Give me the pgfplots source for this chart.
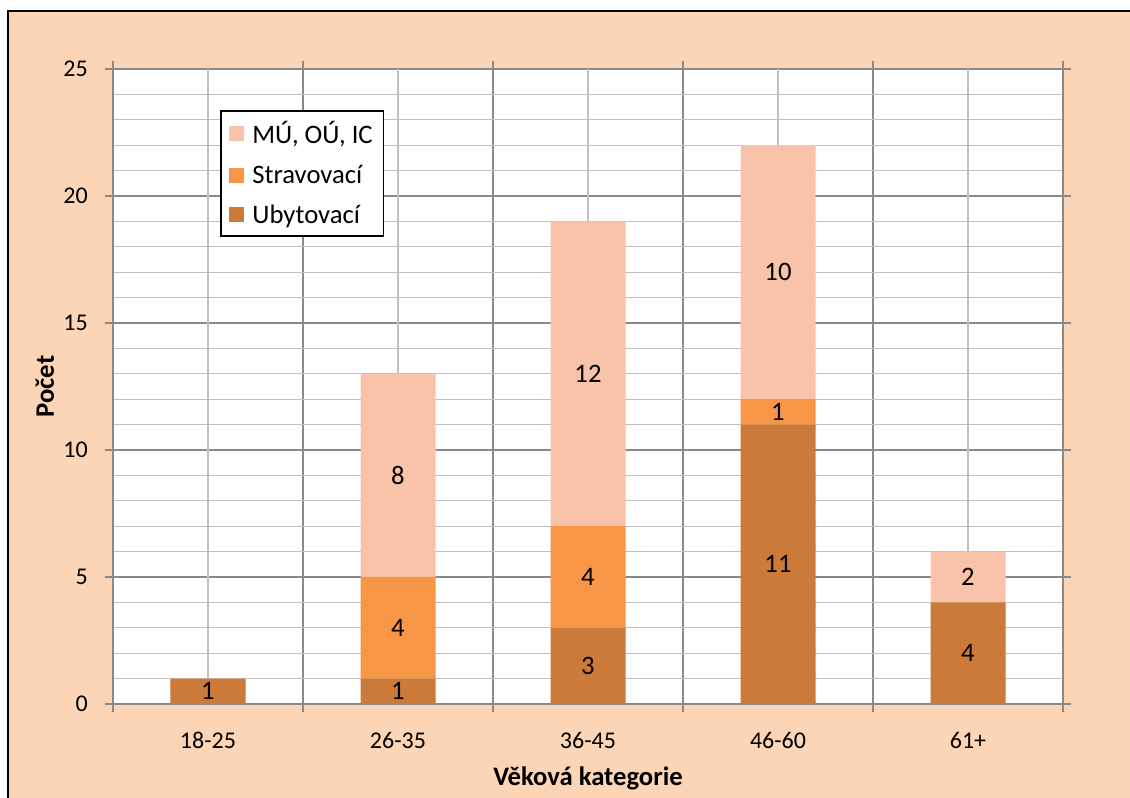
\documentclass[border=0pt]{standalone}
\usepackage{pgfplots}
\pgfplotsset{compat=1.18}
\usepackage{pgfplotstable}
\usepackage{fontspec}
\setmainfont{Carlito}
\definecolor{bg}{HTML}{FBD5B5}
\definecolor{cm}{HTML}{F8C3A8}
\definecolor{cs}{HTML}{F79646}
\definecolor{cu}{HTML}{CC7A39}
\definecolor{gmaj}{HTML}{898989}
\definecolor{gmin}{HTML}{C0C0C0}
\pgfplotstableread{
x u s m
0 1 0 0
1 1 4 8
2 3 4 12
3 11 1 10
4 4 0 2
}\data
\begin{document}
\begin{tikzpicture}
\fill[white] (-84.75pt,-70.5pt) rectangle (762.75pt,528pt);
\useasboundingbox (-84.75pt,-70.5pt) rectangle (762.75pt,528pt);
\draw[line width=1.5pt, fill=bg] (-79.1pt,519.75pt) rectangle (820pt,-120pt);
\begin{axis}[
  at={(0pt,0pt)}, anchor=south west,
  scale only axis, width=712.5pt, height=476.25pt,
  ybar stacked, bar width=56.25pt,
  xmin=-0.5, xmax=4.5, ymin=0, ymax=25,
  axis background/.style={fill=white},
  xtick={-0.5,0.5,1.5,2.5,3.5,4.5}, xticklabels={},
  extra x ticks={0,1,2,3,4},
  extra x tick labels={18-25,26-35,36-45,46-60,61+},
  extra x tick style={major tick length=0pt, xmajorgrids=true,
     major grid style={draw=gmin, line width=1pt},
     xticklabel style={anchor=center, yshift=-27pt}},
  ytick={0,5,10,15,20,25}, minor y tick num=4,
  xmajorgrids, ymajorgrids, yminorgrids,
  major grid style={draw=gmaj, line width=1.2pt},
  minor grid style={draw=gmin, line width=1pt},
  tick align=outside, major tick length=6pt, minor tick length=0pt,
  tick style={draw=gmaj, line width=1.2pt},
  axis line style={draw=gmaj, line width=1.2pt},
  /pgf/number format/assume math mode=true,
  tick label style={font=\fontsize{18}{21}\selectfont},
  yticklabel style={anchor=east, inner sep=0pt, xshift=-12.75pt},
  every axis y label/.style={at={(axis description cs:-0.0716,0.5)}, rotate=90, anchor=center, font=\fontsize{20}{24}\selectfont\bfseries},
  every axis x label/.style={at={(axis description cs:0.5,-0.1165)}, anchor=center, font=\fontsize{20}{24}\selectfont\bfseries},
  ylabel={Počet}, xlabel={Věková kategorie},
  point meta=explicit,
  nodes near coords={\pgfmathfloatifflags{\pgfplotspointmeta}{0}{}{\pgfmathprintnumber{\pgfplotspointmeta}}},
  every node near coord/.append style={font=\fontsize{20}{24}\selectfont, anchor=center},
  legend image code/.code={\fill[#1] (0pt,-5.6pt) rectangle (11.25pt,5.6pt);},
  reverse legend,
  legend cell align=left,
  legend style={at={(axis description cs:0.1126,0.9354)}, anchor=north west,
     draw=black, line width=1.2pt, fill=white, font=\fontsize{20}{24}\selectfont,
     row sep=10.5pt, inner xsep=6pt, inner ysep=6pt,
     /tikz/every odd column/.append style={column sep=4.5pt}},
]
\addplot[fill=cu, draw=none] table[x=x,y=u,meta=u]{\data};
\addplot[fill=cs, draw=none] table[x=x,y=s,meta=s]{\data};
\addplot[fill=cm, draw=none] table[x=x,y=m,meta=m]{\data};
\legend{Ubytovací,Stravovací,{MÚ, OÚ, IC}}
\end{axis}
\end{tikzpicture}
\end{document}
